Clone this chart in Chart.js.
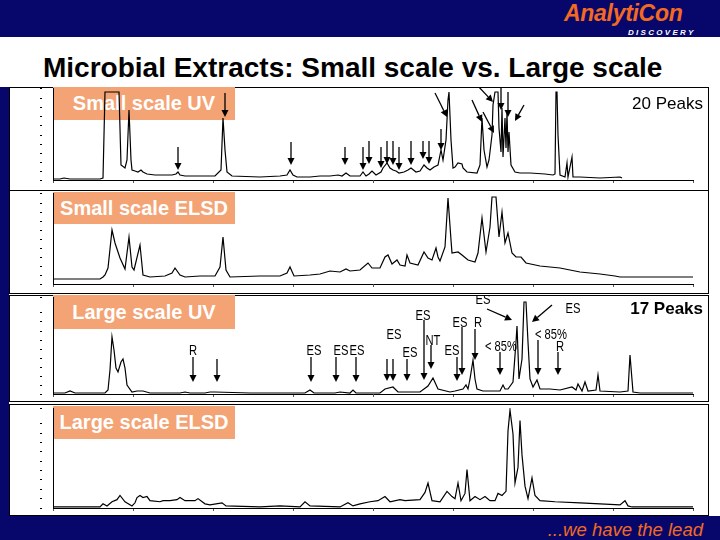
<!DOCTYPE html>
<html lang="en">
<head>
<meta charset="UTF-8">
<title>Microbial Extracts: Small scale vs. Large scale</title>
<script src="https://cdn.jsdelivr.net/npm/chart.js"></script>
<style>
    body { margin: 0; width: 720px; height: 540px; position: relative; overflow: hidden; background: #fff; font-family: Arial, "Liberation Sans", sans-serif; }
    .navy { position: absolute; background: #07076b; }
    .panel { position: absolute; left: 9px; width: 700px; box-sizing: border-box; border: 1px solid #000; background: #fff; z-index: 0; }
    .tag { position: absolute; left: 53px; width: 182px; background: #f4a375; color: #fff; font-weight: bold; font-size: 20px; text-align: center; z-index: 1; }
    canvas { position: absolute; left: 10px; z-index: 2; }
    .peaks { position: absolute; right: 17px; font-size: 17px; z-index: 3; }
    #logo { position: absolute; left: 564px; top: 0px; color: #f26a21; font-size: 23px; font-weight: bold; font-style: italic; letter-spacing: -0.3px; }
    #disc { position: absolute; left: 628px; top: 28px; color: #fff; font-size: 8px; font-weight: bold; font-style: italic; letter-spacing: 2.3px; }
    #title { position: absolute; left: 43px; top: 52px; font-size: 28px; font-weight: bold; color: #000; white-space: nowrap; }
    #lead { position: absolute; right: 17px; top: 519px; color: #f26a21; font-size: 18.5px; font-style: italic; }
</style>
</head>
<body>
<div class="navy" style="left:0;top:0;width:720px;height:37px"></div>
<div id="logo">AnalytiCon</div>
<div id="disc">DISCOVERY</div>
<div id="title">Microbial Extracts: Small scale vs. Large scale</div>
<div class="navy" style="left:0;top:87px;width:9px;height:430px"></div>
<div class="navy" style="left:0;top:516px;width:720px;height:24px"></div>
<div id="lead">...we have the lead</div>

<div class="panel" style="top:87px;height:104px"></div>
<div class="panel" style="top:190px;height:104px"></div>
<div class="panel" style="top:295px;height:107px"></div>
<div class="panel" style="top:404px;height:112px"></div>

<div class="tag" style="top:87px;height:33px;line-height:33px">Small scale UV</div>
<div class="tag" style="top:192px;height:32px;line-height:32px">Small scale ELSD</div>
<div class="tag" style="top:295px;height:34px;line-height:34px">Large scale UV</div>
<div class="tag" style="top:406px;height:33px;line-height:33px">Large scale ELSD</div>

<canvas id="c1" width="698" height="103" style="top:87px"></canvas>
<canvas id="c2" width="698" height="103" style="top:190px"></canvas>
<canvas id="c3" width="698" height="106" style="top:295px"></canvas>
<canvas id="c4" width="698" height="111" style="top:404px"></canvas>

<div class="peaks" style="top:94px">20 Peaks</div>
<div class="peaks" style="top:299px;font-weight:bold">17 Peaks</div>

<script>
// retention axis in scans (0-640), signal in detector units
const smallUvScan = [
    0, 7, 11, 17, 47, 50, 52, 66, 68, 72,
    74, 76, 78, 79, 82, 85, 88, 90, 94, 102,
    112, 119, 123, 125, 127, 132, 147, 162, 168, 170,
    172, 174, 179, 207, 227, 234, 237, 240, 244, 257,
    267, 277, 285, 289, 293, 297, 303, 307, 310, 313,
    316, 319, 323, 328, 330, 334, 337, 340, 343, 346,
    351, 355, 358, 363, 367, 371, 374, 377, 381, 385,
    388, 390, 393, 395, 396, 398, 400, 402, 405, 409,
    410, 414, 424, 427, 429, 431, 434, 436, 439, 440,
    442, 445, 446, 448, 449, 450, 452, 453, 454, 455,
    456, 458, 462, 467, 477, 492, 500, 502, 503, 504,
    505, 507, 512, 514, 515, 519, 520, 527, 547, 567,
    569];
const smallUvSignal = [
    1, 1, 2, 1, 1, 2, 88, 88, 15, 12,
    20, 70, 20, 10, 9, 8, 10, 8, 6, 5,
    5, 5, 6, 8, 5, 4, 4, 4, 10, 62,
    30, 8, 4, 3, 4, 5, 10, 5, 3, 3,
    4, 4, 5, 4, 7, 4, 4, 4, 8, 4,
    6, 9, 5, 8, 12, 17, 12, 10, 9, 7,
    8, 10, 12, 8, 9, 15, 12, 10, 13, 15,
    30, 20, 40, 80, 88, 40, 12, 13, 17, 16,
    12, 8, 7, 15, 62, 30, 13, 20, 45, 75,
    88, 88, 52, 28, 72, 23, 62, 32, 68, 28,
    48, 15, 8, 7, 7, 6, 5, 6, 88, 88,
    45, 5, 3, 17, 3, 23, 3, 3, 2, 3,
    2];

const smallElsdScan = [
    0, 47, 50, 52, 55, 59, 62, 67, 72, 76,
    79, 81, 87, 90, 97, 112, 119, 122, 127, 132,
    147, 162, 167, 170, 173, 177, 207, 227, 234, 237,
    241, 257, 267, 277, 287, 293, 297, 307, 315, 319,
    327, 332, 335, 339, 344, 347, 352, 354, 357, 365,
    371, 375, 379, 383, 385, 387, 392, 395, 398, 399,
    405, 409, 415, 422, 425, 429, 433, 437, 439, 443,
    446, 449, 452, 455, 459, 463, 468, 473, 487, 507,
    527, 547, 562, 567, 640];
const smallElsdSignal = [
    5, 5, 7, 9, 16, 54, 41, 26, 15, 47,
    17, 14, 39, 9, 7, 8, 11, 16, 9, 7,
    8, 8, 17, 47, 14, 7, 8, 8, 11, 17,
    8, 9, 10, 13, 12, 15, 13, 14, 21, 16,
    16, 27, 29, 20, 24, 19, 18, 29, 21, 19,
    32, 26, 24, 36, 27, 23, 37, 86, 44, 31,
    32, 29, 24, 22, 31, 66, 32, 57, 87, 87,
    47, 72, 41, 51, 31, 27, 27, 21, 18, 16,
    12, 10, 8, 7, 7];

const largeUvScan = [
    0, 12, 17, 22, 52, 55, 57, 59, 61, 63,
    65, 68, 70, 72, 74, 79, 84, 90, 97, 127,
    132, 137, 152, 157, 162, 197, 237, 252, 257, 261,
    282, 287, 297, 300, 303, 327, 332, 340, 345, 367,
    375, 380, 385, 397, 402, 410, 413, 415, 417, 420,
    422, 424, 430, 447, 450, 452, 455, 460, 463, 464,
    466, 469, 471, 473, 475, 477, 480, 484, 487, 497,
    507, 519, 523, 525, 529, 532, 535, 543, 545, 547,
    567, 575, 577, 580, 587, 640];
const largeUvSignal = [
    1, 1, 3, 1, 1, 4, 24, 57, 44, 26,
    22, 32, 35, 26, 9, 2, 3, 3, 1, 1,
    2, 1, 1, 2, 2, 1, 1, 1, 4, 1,
    1, 2, 1, 4, 1, 1, 5, 7, 2, 2,
    8, 16, 5, 2, 3, 5, 9, 5, 15, 34,
    15, 5, 3, 3, 9, 5, 5, 12, 52, 68,
    15, 35, 92, 92, 52, 15, 7, 14, 5, 5,
    4, 7, 4, 10, 3, 12, 3, 4, 19, 3,
    2, 3, 39, 2, 1, 1];

const largeElsdScan = [
    0, 7, 47, 50, 54, 59, 64, 67, 72, 79,
    82, 84, 87, 90, 94, 97, 107, 110, 117, 124,
    127, 132, 142, 145, 152, 157, 169, 173, 207, 227,
    247, 252, 257, 287, 295, 300, 307, 317, 325, 332,
    337, 347, 352, 367, 372, 375, 379, 387, 394, 399,
    402, 405, 408, 412, 414, 417, 422, 427, 432, 437,
    442, 445, 449, 453, 455, 457, 460, 462, 465, 467,
    469, 472, 475, 479, 482, 487, 502, 527, 547, 567,
    572, 575, 579, 640];
const largeElsdSignal = [
    1, 1, 1, 4, 2, 6, 8, 12, 6, 2,
    5, 10, 12, 10, 11, 7, 6, 7, 7, 8,
    10, 7, 7, 9, 4, 3, 5, 2, 1, 2,
    1, 6, 2, 1, 5, 2, 4, 6, 7, 11,
    6, 8, 7, 8, 15, 24, 7, 6, 16, 11,
    9, 24, 7, 14, 37, 7, 11, 8, 11, 7,
    7, 14, 12, 16, 74, 94, 71, 24, 39, 84,
    51, 21, 9, 29, 12, 7, 6, 5, 4, 3,
    7, 2, 1, 1];

// arrows: [scan from, signal from, scan to, signal to]
const smallUvArrows = [
    [125, 33, 125, 10], [172, 87, 172, 63], [238, 38, 238, 15], [292, 33, 292, 15],
    [310, 33, 310, 10], [316, 39, 316, 16], [328, 33, 328, 12], [334, 39, 334, 16],
    [340, 39, 340, 15], [346, 33, 346, 10], [358, 39, 358, 15], [370, 39, 370, 21],
    [376, 39, 376, 16], [388, 51, 388, 30], [382, 87, 394, 63], [419, 80, 429, 58],
    [430, 68, 441, 47], [424, 95, 440, 78], [448, 95, 448, 70], [455, 88, 455, 63],
    [471, 75, 462, 59]];
const largeUvArrows = [
    [140, 37, 140, 12], [164, 35, 164, 12], [258, 37, 258, 12], [283, 37, 283, 12],
    [303, 37, 303, 12], [334, 35, 334, 13], [340, 35, 340, 13], [354, 35, 354, 13],
    [371, 74, 371, 14], [378, 49, 378, 25], [404, 37, 404, 13], [409, 67, 409, 19],
    [422, 65, 422, 34], [447, 42, 447, 19], [485, 54, 485, 19], [505, 42, 505, 19],
    [434, 85, 459, 74], [499, 89, 479, 72]];

const largeUvNotes = ['R', 'ES', 'ES', 'ES', 'ES', 'ES', 'ES', 'NT', 'ES', 'ES', 'R', '< 85%', 'ES', 'ES', '< 85%', 'R'];
const largeUvNoteScan = [140, 261, 288, 304, 341, 357, 370, 380, 399, 407, 425, 448, 430, 520, 498, 507];
const largeUvNoteSignal = [43, 43, 43, 43, 59, 41, 78, 53, 43, 71, 71, 47, 94, 85, 59, 47];

const marks = {
    id: 'marks',
    afterDatasetsDraw(chart, args, opts) {
        const ctx = chart.ctx;
        const xs = chart.scales.x, ys = chart.scales.y;
        ctx.save();
        ctx.strokeStyle = '#000';
        ctx.fillStyle = '#000';
        ctx.lineWidth = 1.3;
        (opts.arrows || []).forEach(function(a) {
            const x1 = xs.getPixelForValue(a[0]), y1 = ys.getPixelForValue(a[1]);
            const x2 = xs.getPixelForValue(a[2]), y2 = ys.getPixelForValue(a[3]);
            const ang = Math.atan2(y2 - y1, x2 - x1);
            const bx = x2 - 7 * Math.cos(ang), by = y2 - 7 * Math.sin(ang);
            ctx.beginPath();
            ctx.moveTo(x1, y1);
            ctx.lineTo(bx, by);
            ctx.stroke();
            ctx.beginPath();
            ctx.moveTo(x2, y2);
            ctx.lineTo(bx + 3.5 * Math.sin(ang), by - 3.5 * Math.cos(ang));
            ctx.lineTo(bx - 3.5 * Math.sin(ang), by + 3.5 * Math.cos(ang));
            ctx.closePath();
            ctx.fill();
        });
        const notes = opts.notes || [];
        ctx.font = '14px Arial, "Liberation Sans"';
        ctx.textAlign = 'center';
        ctx.textBaseline = 'middle';
        notes.forEach(function(t, i) {
            ctx.save();
            ctx.translate(xs.getPixelForValue(opts.noteX[i]), ys.getPixelForValue(opts.noteY[i]));
            ctx.scale(0.8, 1);
            ctx.fillText(t, 0, 0);
            ctx.restore();
        });
        ctx.restore();
    }
};
Chart.register(marks);

function drawPanel(id, scans, signal, yMax, padTop, axisH, extra) {
    const pts = scans.map(function(s, i) { return { x: s, y: signal[i] }; });
    return new Chart(document.getElementById(id), {
        type: 'line',
        data: {
            datasets: [{
                data: pts,
                borderColor: '#000',
                borderWidth: 1.2,
                pointRadius: 0,
                tension: 0,
                fill: false
            }]
        },
        options: {
            responsive: false,
            animation: false,
            events: [],
            layout: { padding: { left: 0, right: 15, top: padTop, bottom: 0 } },
            plugins: {
                legend: { display: false },
                tooltip: { enabled: false },
                marks: extra || {}
            },
            scales: {
                x: {
                    type: 'linear', min: 0, max: 640,
                    afterFit: function(s) { s.height = axisH; },
                    ticks: { display: false, stepSize: 80 },
                    grid: { drawOnChartArea: false, tickLength: 3, color: '#555' },
                    border: { color: '#000', width: 1 }
                },
                y: {
                    min: 0, max: yMax,
                    afterFit: function(s) { s.width = 43; },
                    ticks: { display: false, stepSize: 9 },
                    grid: { drawOnChartArea: false, tickLength: 13, color: '#000', tickBorderDash: [2, 11] },
                    border: { color: '#000', width: 1 }
                }
            }
        }
    });
}

drawPanel('c1', smallUvScan, smallUvSignal, 92, 1, 10, { arrows: smallUvArrows });
drawPanel('c2', smallElsdScan, smallElsdSignal, 91, 3, 9);
drawPanel('c3', largeUvScan, largeUvSignal, 97, 2, 7,
    { arrows: largeUvArrows, notes: largeUvNotes, noteX: largeUvNoteScan, noteY: largeUvNoteSignal });
drawPanel('c4', largeElsdScan, largeElsdSignal, 96, 4, 7);
</script>
</body>
</html>
